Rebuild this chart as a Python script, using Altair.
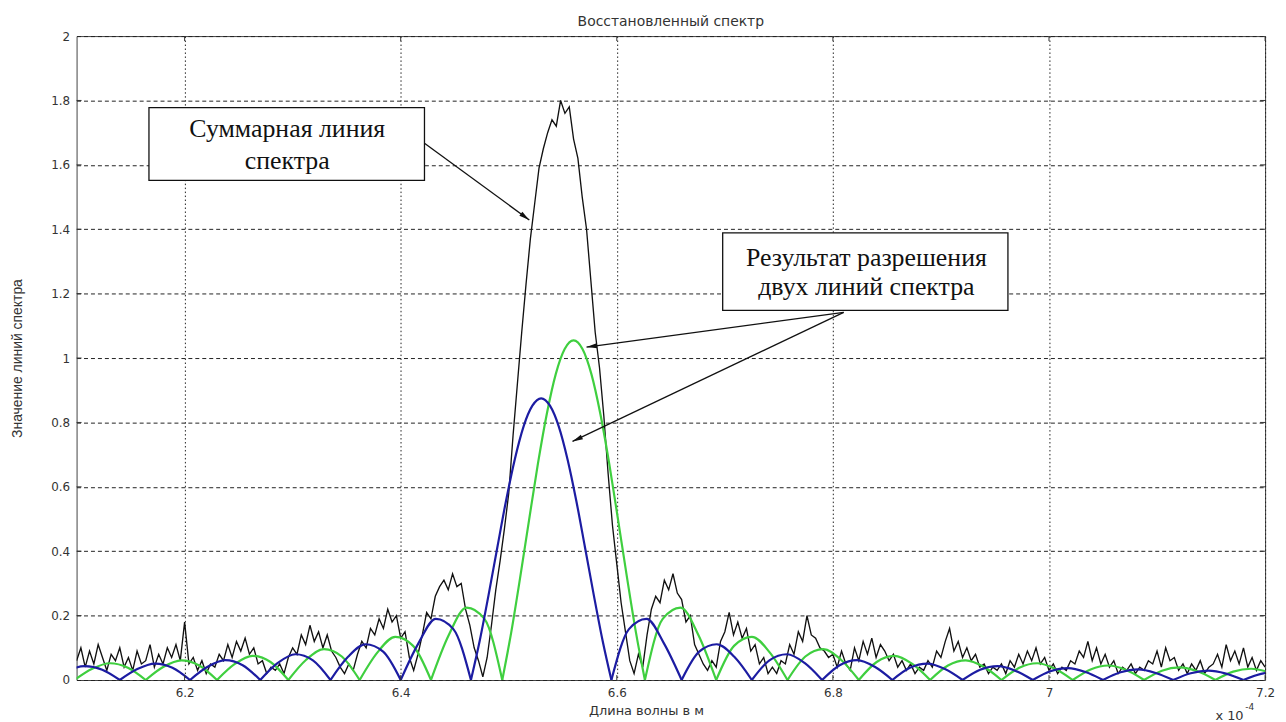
import altair as alt
import pandas as pd

# ---------------- data (x in units of 1e-4 m) ----------------
X_START = 6.1
X_STEP = 0.004
BLACK_Y = [
    # 6.100
    0.06, 0.10, 0.04, 0.09, 0.05, 0.11, 0.07, 0.03, 0.08, 0.06,
    # 6.140
    0.10, 0.04, 0.07, 0.03, 0.09, 0.05, 0.06, 0.11, 0.04, 0.08,
    # 6.180
    0.05, 0.10, 0.07, 0.11, 0.06, 0.18, 0.05, 0.07, 0.03, 0.06,
    # 6.220
    0.02, 0.05, 0.04, 0.08, 0.06, 0.11, 0.07, 0.12, 0.09, 0.13,
    # 6.260
    0.08, 0.10, 0.05, 0.06, 0.02, 0.04, 0.03, 0.05, 0.02, 0.07,
    # 6.300
    0.10, 0.08, 0.14, 0.11, 0.17, 0.12, 0.15, 0.10, 0.14, 0.09,
    # 6.340
    0.07, 0.04, 0.02, 0.05, 0.03, 0.08, 0.12, 0.10, 0.16, 0.14,
    # 6.380
    0.19, 0.16, 0.22, 0.18, 0.20, 0.13, 0.15, 0.07, 0.03, 0.08,
    # 6.420
    0.14, 0.21, 0.19, 0.26, 0.29, 0.31, 0.28, 0.33, 0.29, 0.30,
    # 6.460
    0.22, 0.17, 0.10, 0.06, 0.01, 0.07, 0.17, 0.28, 0.37, 0.47,
    # 6.500
    0.58, 0.76, 0.92, 1.08, 1.23, 1.37, 1.48, 1.59, 1.65, 1.70,
    # 6.540
    1.74, 1.72, 1.80, 1.76, 1.78, 1.68, 1.62, 1.50, 1.40, 1.24,
    # 6.580
    1.08, 0.97, 0.82, 0.64, 0.48, 0.36, 0.24, 0.15, 0.06, 0.02,
    # 6.620
    0.08, 0.04, 0.14, 0.22, 0.26, 0.24, 0.31, 0.28, 0.33, 0.27,
    # 6.660
    0.25, 0.18, 0.20, 0.11, 0.08, 0.05, 0.03, 0.06, 0.04, 0.12,
    # 6.700
    0.15, 0.21, 0.14, 0.18, 0.13, 0.16, 0.09, 0.11, 0.05, 0.07,
    # 6.740
    0.02, 0.04, 0.02, 0.06, 0.05, 0.11, 0.08, 0.15, 0.12, 0.20,
    # 6.780
    0.14, 0.13, 0.10, 0.09, 0.07, 0.08, 0.04, 0.09, 0.05, 0.03,
    # 6.820
    0.10, 0.06, 0.12, 0.08, 0.13, 0.07, 0.11, 0.09, 0.06, 0.08,
    # 6.860
    0.04, 0.06, 0.03, 0.05, 0.02, 0.04, 0.03, 0.06, 0.04, 0.09,
    # 6.900
    0.07, 0.12, 0.16, 0.09, 0.12, 0.07, 0.10, 0.06, 0.08, 0.04,
    # 6.940
    0.05, 0.02, 0.04, 0.03, 0.05, 0.02, 0.06, 0.04, 0.08, 0.05,
    # 6.980
    0.09, 0.06, 0.10, 0.05, 0.07, 0.03, 0.05, 0.02, 0.04, 0.03,
    # 7.020
    0.06, 0.05, 0.09, 0.07, 0.12, 0.06, 0.10, 0.05, 0.08, 0.04,
    # 7.060
    0.06, 0.02, 0.04, 0.03, 0.05, 0.02, 0.04, 0.03, 0.06, 0.05,
    # 7.100
    0.09, 0.04, 0.10, 0.06, 0.07, 0.03, 0.05, 0.02, 0.05, 0.03,
    # 7.140
    0.06, 0.02, 0.04, 0.05, 0.08, 0.04, 0.11, 0.06, 0.09, 0.05,
    # 7.180
    0.10, 0.04, 0.07, 0.03, 0.06, 0.04,
]

# green line: zero crossings and the sampled lobes between them
GREEN_EDGES = [6.098, 6.164, 6.230, 6.296, 6.362, 6.428, 6.494, 6.626,
               6.692, 6.758, 6.824, 6.890, 6.956, 7.022, 7.088, 7.154, 7.220]
GREEN_LOBES = [
    [0, 0.035, 0.052, 0.038, 0],
    [0, 0.041, 0.061, 0.045, 0],
    [0, 0.050, 0.075, 0.056, 0],
    [0, 0.063, 0.096, 0.073, 0],
    [0, 0.086, 0.134, 0.106, 0],
    [0, 0.140, 0.225, 0.190, 0],
    [0, 0.147, 0.317, 0.496, 0.672, 0.827, 0.950, 1.028, 1.055,
     1.028, 0.950, 0.827, 0.672, 0.496, 0.317, 0.147, 0],
    [0, 0.190, 0.225, 0.140, 0],
    [0, 0.106, 0.134, 0.086, 0],
    [0, 0.073, 0.096, 0.063, 0],
    [0, 0.056, 0.075, 0.050, 0],
    [0, 0.045, 0.061, 0.041, 0],
    [0, 0.038, 0.052, 0.035, 0],
    [0, 0.033, 0.045, 0.031, 0],
    [0, 0.029, 0.039, 0.027, 0],
    [0, 0.026, 0.035, 0.024, 0],
]

BLUE_EDGES = [6.075, 6.140, 6.205, 6.270, 6.335, 6.400, 6.465, 6.595,
              6.660, 6.725, 6.790, 6.855, 6.920, 6.985, 7.050, 7.115, 7.180, 7.245]
BLUE_LOBES = [
    [0, 0.029, 0.043, 0.032, 0],
    [0, 0.034, 0.051, 0.038, 0],
    [0, 0.041, 0.062, 0.046, 0],
    [0, 0.053, 0.080, 0.061, 0],
    [0, 0.072, 0.111, 0.088, 0],
    [0, 0.113, 0.190, 0.158, 0],
    [0, 0.122, 0.263, 0.411, 0.557, 0.686, 0.788, 0.852, 0.875,
     0.852, 0.788, 0.686, 0.557, 0.411, 0.263, 0.122, 0],
    [0, 0.158, 0.190, 0.113, 0],
    [0, 0.088, 0.111, 0.072, 0],
    [0, 0.061, 0.080, 0.053, 0],
    [0, 0.046, 0.062, 0.041, 0],
    [0, 0.038, 0.051, 0.034, 0],
    [0, 0.032, 0.043, 0.029, 0],
    [0, 0.027, 0.037, 0.025, 0],
    [0, 0.024, 0.033, 0.022, 0],
    [0, 0.021, 0.029, 0.020, 0],
    [0, 0.019, 0.026, 0.018, 0],
]

X_TICKS = [6.2, 6.4, 6.6, 6.8, 7.0, 7.2]
Y_TICKS = [0, 0.2, 0.4, 0.6, 0.8, 1.0, 1.2, 1.4, 1.6, 1.8, 2.0]

TITLE = "Восстановленный спектр"
X_TITLE = "Длина волны в м"
Y_TITLE = "Значение линий спектра"

BOX_X1 = [6.167, 6.698]
BOX_X2 = [6.422, 6.962]
BOX_Y1 = [1.552, 1.148]
BOX_Y2 = [1.778, 1.389]

NOTE_TEXT = ["Суммарная линия", "спектра", "Результат разрешения", "двух линий спектра"]
NOTE_X = [6.295, 6.295, 6.831, 6.831]
NOTE_Y = [1.710, 1.611, 1.312, 1.219]

ARROW_X1 = [6.422, 6.810, 6.810]
ARROW_Y1 = [1.667, 1.142, 1.142]
ARROW_X2 = [6.519, 6.572, 6.559]
ARROW_Y2 = [1.429, 1.034, 0.741]
ARROW_ANGLE = [126.3, 262.3, 244.5]

# ---------------- tables ----------------
black_df = pd.DataFrame({"x": [round(X_START + X_STEP * i, 4) for i in range(len(BLACK_Y))],
                         "y": BLACK_Y})


def lobe_table(edges, lobes):
    rows = []
    for j, ys in enumerate(lobes):
        a, b = edges[j], edges[j + 1]
        n = len(ys)
        for k, v in enumerate(ys):
            rows.append({"x": a + (b - a) * k / (n - 1), "y": v, "lobe": j})
    return pd.DataFrame(rows)


green_df = lobe_table(GREEN_EDGES, GREEN_LOBES)
blue_df = lobe_table(BLUE_EDGES, BLUE_LOBES)
box_df = pd.DataFrame({"x": BOX_X1, "x2": BOX_X2, "y": BOX_Y1, "y2": BOX_Y2})
note_df = pd.DataFrame({"x": NOTE_X, "y": NOTE_Y, "t": NOTE_TEXT})
arrow_df = pd.DataFrame({"x": ARROW_X1, "y": ARROW_Y1, "x2": ARROW_X2, "y2": ARROW_Y2,
                         "ang": ARROW_ANGLE})
head_df = pd.DataFrame({"x": ARROW_X2, "y": ARROW_Y2, "ang": ARROW_ANGLE})
xt_df = pd.DataFrame({"x": X_TICKS})
yt_df = pd.DataFrame({"y": Y_TICKS[1:-1]})
one = pd.DataFrame({"a": [0]})

W, H = 1196, 648
AXF = "DejaVu Sans"

xs = alt.Scale(domain=[6.1, 7.2], nice=False, zero=False)
ys = alt.Scale(domain=[0, 2], nice=False, zero=False)
xax = alt.Axis(values=X_TICKS, format="~g", title=X_TITLE, grid=True, gridDash=[1.5, 2.5],
               gridColor="#222", gridOpacity=1, gridWidth=1, domain=False, ticks=False,
               labelFont=AXF, labelFontSize=12, labelColor="#333", labelPadding=8,
               labelFlush=False, labelOverlap=False, labelBound=False,
               titleFont=AXF, titleFontSize=13, titleFontWeight="normal", titleColor="#333",
               titleX=573, titleY=31, titleBaseline="middle", titleAlign="center")
yax = alt.Axis(values=Y_TICKS, format="~g", title=Y_TITLE, grid=True, gridDash=[4, 3],
               gridColor="#222", gridOpacity=1, gridWidth=1, domain=False, ticks=False,
               labelFont=AXF, labelFontSize=12, labelColor="#333", labelPadding=7,
               labelFlush=False, labelOverlap=False, labelBound=False,
               titleFont="Liberation Sans", titleFontSize=14,
               titleFontWeight="normal", titleColor="#333", titleAngle=270,
               titleX=-59, titleY=324, titleBaseline="middle", titleAlign="center")

X = alt.X("x:Q", scale=xs, axis=xax)
Y = alt.Y("y:Q", scale=ys, axis=yax)

black = alt.Chart(black_df).mark_line(clip=True, color="#111", strokeWidth=1.35).encode(x=X, y=Y)
green = alt.Chart(green_df).mark_line(clip=True, color="#3fcf3f", strokeWidth=2.2,
                                      interpolate="monotone").encode(x=X, y=Y, detail="lobe:N")
blue = alt.Chart(blue_df).mark_line(clip=True, color="#1c1ca2", strokeWidth=2.2,
                                    interpolate="monotone").encode(x=X, y=Y, detail="lobe:N")

xticks_b = alt.Chart(xt_df).mark_rule(color="#333").encode(x=X, y=alt.value(H), y2=alt.value(H - 5))
xticks_t = alt.Chart(xt_df).mark_rule(color="#333").encode(x=X, y=alt.value(0), y2=alt.value(5))
yticks_l = alt.Chart(yt_df).mark_rule(color="#333").encode(y=Y, x=alt.value(0), x2=alt.value(5))
yticks_r = alt.Chart(yt_df).mark_rule(color="#333").encode(y=Y, x=alt.value(W), x2=alt.value(W - 5))

arrows = alt.Chart(arrow_df).mark_rule(color="#111", strokeWidth=1.3).encode(
    x=X, y=Y, x2="x2:Q", y2="y2:Q")
heads = alt.Chart(head_df).mark_point(shape="M0,0 L0.48,2 L-0.48,2 Z", filled=True, size=110,
                                      color="#111", opacity=1, strokeWidth=0).encode(
    x=X, y=Y, angle=alt.Angle("ang:Q", scale=None))
boxes = alt.Chart(box_df).mark_rect(fill="white", stroke="#111", strokeWidth=1.3).encode(
    x=X, x2="x2:Q", y=Y, y2="y2:Q")
notes = alt.Chart(note_df).mark_text(font="Liberation Serif", fontSize=26, color="#111",
                                     align="center", baseline="middle").encode(x=X, y=Y, text="t:N")

title = alt.Chart(one).mark_text(text=TITLE, font=AXF, fontSize=14, color="#333",
                                 align="center", baseline="middle").encode(
    x=alt.value(598), y=alt.value(-14))
mult = alt.Chart(one).mark_text(text="x 10", font=AXF, fontSize=13, color="#333",
                                align="left", baseline="middle").encode(
    x=alt.value(1146), y=alt.value(684))
expo = alt.Chart(one).mark_text(text="-4", font=AXF, fontSize=9, color="#333",
                                align="left", baseline="middle").encode(
    x=alt.value(1176), y=alt.value(675))

chart = alt.layer(
    black, green, blue, xticks_b, xticks_t, yticks_l, yticks_r,
    arrows, heads, boxes, notes, title, mult, expo
).properties(
    width=W, height=H,
    padding={"left": 69, "top": 26, "right": 13, "bottom": 40},
    autosize=alt.AutoSizeParams(type="none"),
    background="white",
).configure_view(stroke="#444", strokeWidth=1)

chart.save("out.html", embed_options={"renderer": "svg", "actions": False})
